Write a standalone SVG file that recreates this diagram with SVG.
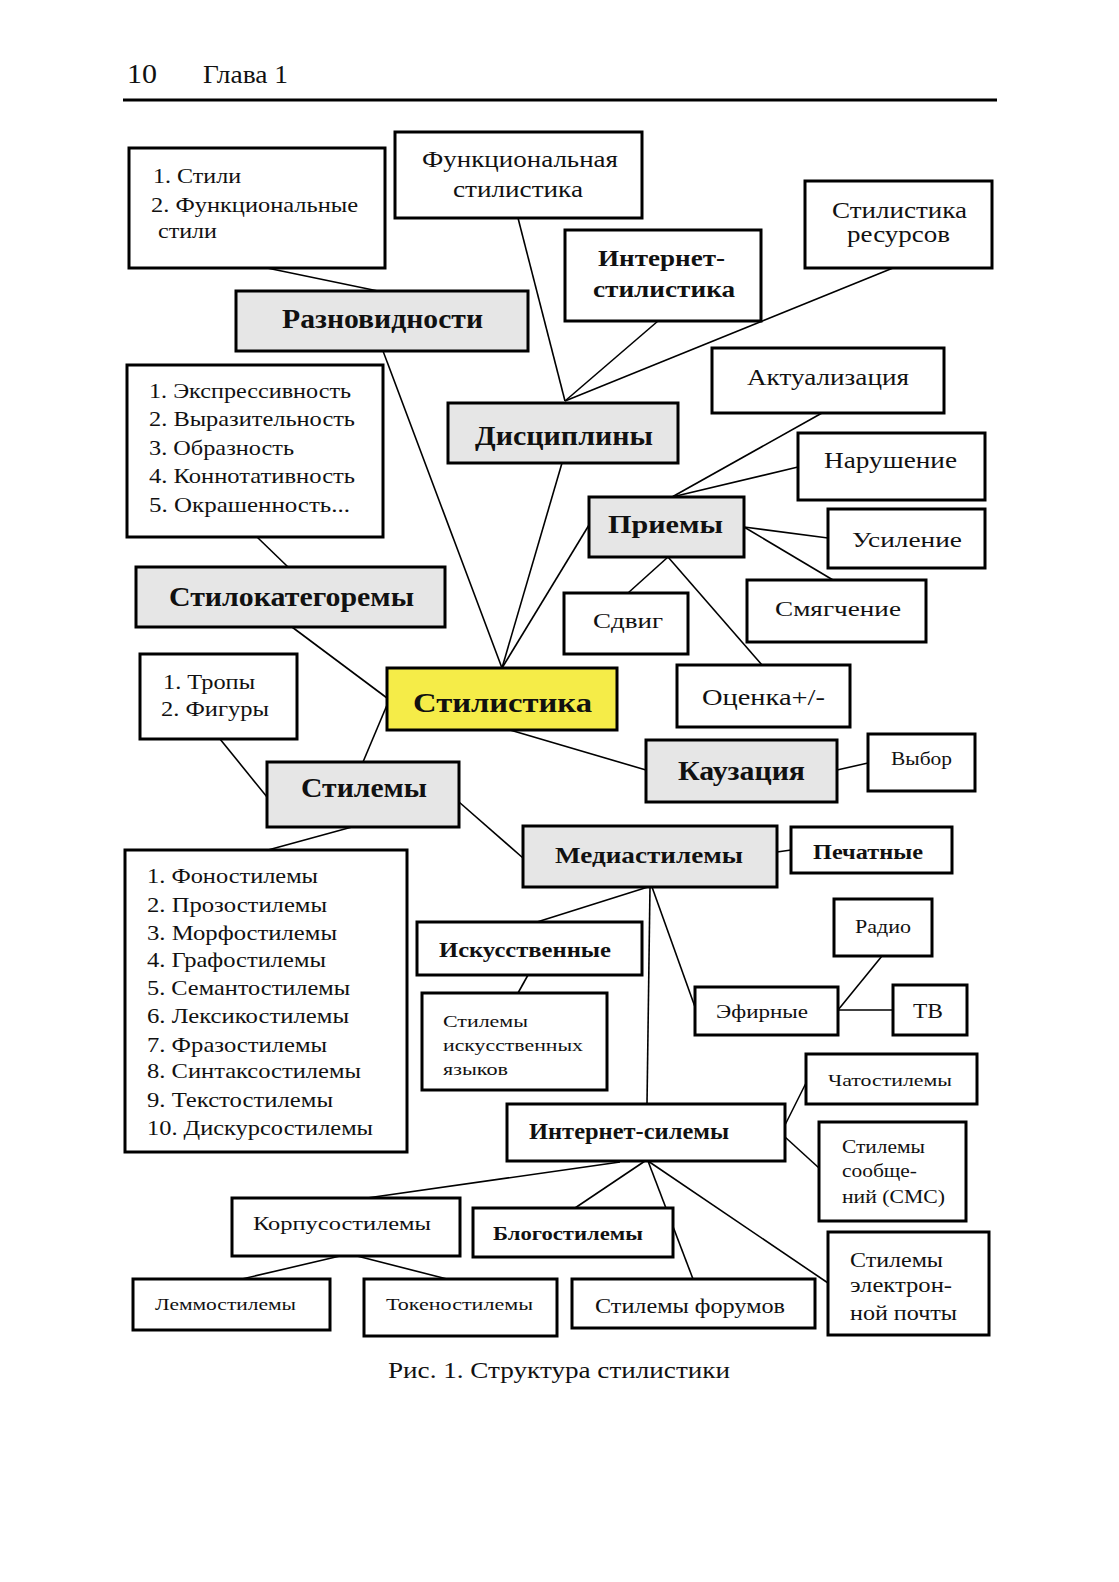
<svg xmlns="http://www.w3.org/2000/svg" width="1119" height="1582" viewBox="0 0 1119 1582">
<style>
.bx{fill:#fff;stroke:#000;stroke-width:3}
.g{fill:#e6e6e6}
.y{fill:#f5ec48}
.t{font-family:"Liberation Serif","Times New Roman",serif;fill:#111}
.b{font-weight:bold}
.ln{stroke:#000;stroke-width:1.6;fill:none}
</style>
<rect width="1119" height="1582" fill="#fff"/>
<g id="header">
<text class="t" x="127" y="83" font-size="27" textLength="30" lengthAdjust="spacingAndGlyphs">10</text>
<text class="t" x="203" y="83" font-size="25" textLength="85" lengthAdjust="spacingAndGlyphs">Глава 1</text>
<line x1="123" y1="100" x2="997" y2="100" stroke="#000" stroke-width="3"/>
</g>
<g id="connectors">
<line class="ln" x1="267" y1="268" x2="378" y2="291"/>
<line class="ln" x1="518" y1="218" x2="565" y2="401"/>
<line class="ln" x1="658" y1="321" x2="565" y2="401"/>
<line class="ln" x1="893" y1="268" x2="565" y2="401"/>
<line class="ln" x1="383" y1="351" x2="502" y2="668"/>
<line class="ln" x1="562" y1="463" x2="502" y2="668"/>
<line class="ln" x1="589" y1="525" x2="502" y2="668"/>
<line class="ln" x1="822" y1="413" x2="672" y2="497"/>
<line class="ln" x1="798" y1="467" x2="672" y2="497"/>
<line class="ln" x1="744" y1="527" x2="828" y2="538"/>
<line class="ln" x1="744" y1="527" x2="833" y2="580"/>
<line class="ln" x1="668" y1="557" x2="628" y2="593"/>
<line class="ln" x1="668" y1="557" x2="762" y2="665"/>
<line class="ln" x1="257" y1="537" x2="288" y2="567"/>
<line class="ln" x1="292" y1="627" x2="387" y2="698"/>
<line class="ln" x1="387" y1="705" x2="363" y2="762"/>
<line class="ln" x1="220" y1="739" x2="267" y2="797"/>
<line class="ln" x1="510" y1="730" x2="646" y2="770"/>
<line class="ln" x1="837" y1="770" x2="868" y2="763"/>
<line class="ln" x1="459" y1="802" x2="523" y2="858"/>
<line class="ln" x1="352" y1="827" x2="268" y2="850"/>
<line class="ln" x1="777" y1="852" x2="791" y2="850"/>
<line class="ln" x1="648" y1="887" x2="537" y2="922"/>
<line class="ln" x1="650" y1="887" x2="647" y2="1104"/>
<line class="ln" x1="652" y1="887" x2="695" y2="1007"/>
<line class="ln" x1="882" y1="956" x2="838" y2="1010"/>
<line class="ln" x1="838" y1="1010" x2="893" y2="1010"/>
<line class="ln" x1="528" y1="975" x2="518" y2="993"/>
<line class="ln" x1="785" y1="1125" x2="806" y2="1083"/>
<line class="ln" x1="785" y1="1137" x2="819" y2="1168"/>
<line class="ln" x1="620" y1="1162" x2="367" y2="1198"/>
<line class="ln" x1="645" y1="1161" x2="575" y2="1208"/>
<line class="ln" x1="648" y1="1161" x2="693" y2="1279" stroke-width="2.6"/>
<line class="ln" x1="648" y1="1161" x2="828" y2="1283"/>
<line class="ln" x1="340" y1="1256" x2="242" y2="1279"/>
<line class="ln" x1="357" y1="1256" x2="447" y2="1279"/>
</g>
<g id="n-stili">
<rect class="bx" x="129" y="148" width="256" height="120"/>
<text class="t" x="153" y="183" font-size="22" textLength="88" lengthAdjust="spacingAndGlyphs">1. Стили</text>
<text class="t" x="151" y="212" font-size="22" textLength="207" lengthAdjust="spacingAndGlyphs">2. Функциональные</text>
<text class="t" x="158" y="238" font-size="22" textLength="59" lengthAdjust="spacingAndGlyphs">стили</text>
</g>
<g id="n-funk">
<rect class="bx" x="395" y="132" width="247" height="86"/>
<text class="t" x="422" y="167" font-size="23" textLength="196" lengthAdjust="spacingAndGlyphs">Функциональная</text>
<text class="t" x="453" y="197" font-size="23" textLength="130" lengthAdjust="spacingAndGlyphs">стилистика</text>
</g>
<g id="n-internet-stil">
<rect class="bx" x="565" y="230" width="196" height="91"/>
<text class="t b" x="598" y="266" font-size="24" textLength="127" lengthAdjust="spacingAndGlyphs">Интернет-</text>
<text class="t b" x="593" y="297" font-size="24" textLength="142" lengthAdjust="spacingAndGlyphs">стилистика</text>
</g>
<g id="n-resursy">
<rect class="bx" x="805" y="181" width="187" height="87"/>
<text class="t" x="832" y="218" font-size="23" textLength="135" lengthAdjust="spacingAndGlyphs">Стилистика</text>
<text class="t" x="847" y="242" font-size="23" textLength="103" lengthAdjust="spacingAndGlyphs">ресурсов</text>
</g>
<g id="n-raznovidnosti">
<rect class="bx g" x="236" y="291" width="292" height="60"/>
<text class="t b" x="282" y="328" font-size="27" textLength="201" lengthAdjust="spacingAndGlyphs">Разновидности</text>
</g>
<g id="n-aktual">
<rect class="bx" x="712" y="348" width="232" height="65"/>
<text class="t" x="747" y="385" font-size="23" textLength="162" lengthAdjust="spacingAndGlyphs">Актуализация</text>
</g>
<g id="n-discipliny">
<rect class="bx g" x="448" y="403" width="230" height="60"/>
<text class="t b" x="475" y="445" font-size="27" textLength="178" lengthAdjust="spacingAndGlyphs">Дисциплины</text>
</g>
<g id="n-narushenie">
<rect class="bx" x="798" y="433" width="187" height="67"/>
<text class="t" x="824" y="468" font-size="23" textLength="133" lengthAdjust="spacingAndGlyphs">Нарушение</text>
</g>
<g id="n-ekspr">
<rect class="bx" x="127" y="365" width="256" height="172"/>
<text class="t" x="149" y="398" font-size="22" textLength="202" lengthAdjust="spacingAndGlyphs">1. Экспрессивность</text>
<text class="t" x="149" y="426" font-size="22" textLength="206" lengthAdjust="spacingAndGlyphs">2. Выразительность</text>
<text class="t" x="149" y="455" font-size="22" textLength="145" lengthAdjust="spacingAndGlyphs">3. Образность</text>
<text class="t" x="149" y="483" font-size="22" textLength="206" lengthAdjust="spacingAndGlyphs">4. Коннотативность</text>
<text class="t" x="149" y="512" font-size="22" textLength="201" lengthAdjust="spacingAndGlyphs">5. Окрашенность...</text>
</g>
<g id="n-priemy">
<rect class="bx g" x="589" y="497" width="155" height="60"/>
<text class="t b" x="608" y="533" font-size="26" textLength="115" lengthAdjust="spacingAndGlyphs">Приемы</text>
</g>
<g id="n-usilenie">
<rect class="bx" x="828" y="509" width="157" height="59"/>
<text class="t" x="852" y="547" font-size="22" textLength="110" lengthAdjust="spacingAndGlyphs">Усиление</text>
</g>
<g id="n-stilokat">
<rect class="bx g" x="136" y="567" width="309" height="60"/>
<text class="t b" x="169" y="606" font-size="27" textLength="245" lengthAdjust="spacingAndGlyphs">Стилокатегоремы</text>
</g>
<g id="n-smyagchenie">
<rect class="bx" x="747" y="580" width="179" height="62"/>
<text class="t" x="775" y="616" font-size="22" textLength="126" lengthAdjust="spacingAndGlyphs">Смягчение</text>
</g>
<g id="n-sdvig">
<rect class="bx" x="564" y="593" width="124" height="61"/>
<text class="t" x="593" y="628" font-size="21" textLength="70" lengthAdjust="spacingAndGlyphs">Сдвиг</text>
</g>
<g id="n-tropy">
<rect class="bx" x="140" y="654" width="157" height="85"/>
<text class="t" x="163" y="689" font-size="22" textLength="92" lengthAdjust="spacingAndGlyphs">1. Тропы</text>
<text class="t" x="161" y="716" font-size="22" textLength="108" lengthAdjust="spacingAndGlyphs">2. Фигуры</text>
</g>
<g id="n-ocenka">
<rect class="bx" x="677" y="665" width="173" height="62"/>
<text class="t" x="702" y="705" font-size="23" textLength="123" lengthAdjust="spacingAndGlyphs">Оценка+/-</text>
</g>
<g id="n-stilistika">
<rect class="bx y" x="387" y="668" width="230" height="62"/>
<text class="t b" x="413" y="712" font-size="27" textLength="179" lengthAdjust="spacingAndGlyphs">Стилистика</text>
</g>
<g id="n-vybor">
<rect class="bx" x="868" y="734" width="107" height="57"/>
<text class="t" x="891" y="765" font-size="18" textLength="61" lengthAdjust="spacingAndGlyphs">Выбор</text>
</g>
<g id="n-kauzaciya">
<rect class="bx g" x="646" y="740" width="191" height="62"/>
<text class="t b" x="678" y="780" font-size="27" textLength="127" lengthAdjust="spacingAndGlyphs">Каузация</text>
</g>
<g id="n-stilemy">
<rect class="bx g" x="267" y="762" width="192" height="65"/>
<text class="t b" x="301" y="797" font-size="27" textLength="126" lengthAdjust="spacingAndGlyphs">Стилемы</text>
</g>
<g id="n-media">
<rect class="bx g" x="523" y="826" width="254" height="61"/>
<text class="t b" x="555" y="863" font-size="24" textLength="188" lengthAdjust="spacingAndGlyphs">Медиастилемы</text>
</g>
<g id="n-pechatnye">
<rect class="bx" x="791" y="827" width="161" height="46"/>
<text class="t b" x="813" y="859" font-size="22" textLength="110" lengthAdjust="spacingAndGlyphs">Печатные</text>
</g>
<g id="n-fono">
<rect class="bx" x="125" y="850" width="282" height="302"/>
<text class="t" x="147" y="883" font-size="21" textLength="171" lengthAdjust="spacingAndGlyphs">1. Фоностилемы</text>
<text class="t" x="147" y="912" font-size="21" textLength="180" lengthAdjust="spacingAndGlyphs">2. Прозостилемы</text>
<text class="t" x="147" y="940" font-size="21" textLength="190" lengthAdjust="spacingAndGlyphs">3. Морфостилемы</text>
<text class="t" x="147" y="967" font-size="21" textLength="179" lengthAdjust="spacingAndGlyphs">4. Графостилемы</text>
<text class="t" x="147" y="995" font-size="21" textLength="203" lengthAdjust="spacingAndGlyphs">5. Семантостилемы</text>
<text class="t" x="147" y="1023" font-size="21" textLength="202" lengthAdjust="spacingAndGlyphs">6. Лексикостилемы</text>
<text class="t" x="147" y="1052" font-size="21" textLength="180" lengthAdjust="spacingAndGlyphs">7. Фразостилемы</text>
<text class="t" x="147" y="1078" font-size="21" textLength="214" lengthAdjust="spacingAndGlyphs">8. Синтаксостилемы</text>
<text class="t" x="147" y="1107" font-size="21" textLength="186" lengthAdjust="spacingAndGlyphs">9. Текстостилемы</text>
<text class="t" x="147" y="1135" font-size="21" textLength="226" lengthAdjust="spacingAndGlyphs">10. Дискурсостилемы</text>
</g>
<g id="n-radio">
<rect class="bx" x="834" y="899" width="98" height="57"/>
<text class="t" x="855" y="933" font-size="18" textLength="56" lengthAdjust="spacingAndGlyphs">Радио</text>
</g>
<g id="n-iskusstv">
<rect class="bx" x="417" y="922" width="225" height="53"/>
<text class="t b" x="439" y="957" font-size="22" textLength="172" lengthAdjust="spacingAndGlyphs">Искусственные</text>
</g>
<g id="n-efirnye">
<rect class="bx" x="695" y="987" width="143" height="48"/>
<text class="t" x="716" y="1018" font-size="18" textLength="92" lengthAdjust="spacingAndGlyphs">Эфирные</text>
</g>
<g id="n-tv">
<rect class="bx" x="893" y="985" width="74" height="50"/>
<text class="t" x="913" y="1018" font-size="21" textLength="30" lengthAdjust="spacingAndGlyphs">ТВ</text>
</g>
<g id="n-iskyaz">
<rect class="bx" x="422" y="993" width="185" height="97"/>
<text class="t" x="443" y="1027" font-size="17" textLength="85" lengthAdjust="spacingAndGlyphs">Стилемы</text>
<text class="t" x="443" y="1051" font-size="17" textLength="140" lengthAdjust="spacingAndGlyphs">искусственных</text>
<text class="t" x="443" y="1075" font-size="17" textLength="65" lengthAdjust="spacingAndGlyphs">языков</text>
</g>
<g id="n-chato">
<rect class="bx" x="806" y="1054" width="171" height="50"/>
<text class="t" x="828" y="1086" font-size="17" textLength="124" lengthAdjust="spacingAndGlyphs">Чатостилемы</text>
</g>
<g id="n-internet-sil">
<rect class="bx" x="507" y="1104" width="278" height="57"/>
<text class="t b" x="529" y="1139" font-size="23" textLength="200" lengthAdjust="spacingAndGlyphs">Интернет-силемы</text>
</g>
<g id="n-sms">
<rect class="bx" x="819" y="1122" width="147" height="99"/>
<text class="t" x="842" y="1153" font-size="18" textLength="83" lengthAdjust="spacingAndGlyphs">Стилемы</text>
<text class="t" x="842" y="1177" font-size="18" textLength="75" lengthAdjust="spacingAndGlyphs">сообще-</text>
<text class="t" x="842" y="1203" font-size="18" textLength="103" lengthAdjust="spacingAndGlyphs">ний (СМС)</text>
</g>
<g id="n-korpus">
<rect class="bx" x="232" y="1198" width="228" height="58"/>
<text class="t" x="253" y="1230" font-size="19" textLength="178" lengthAdjust="spacingAndGlyphs">Корпусостилемы</text>
</g>
<g id="n-blogo">
<rect class="bx" x="473" y="1208" width="200" height="49"/>
<text class="t b" x="493" y="1240" font-size="19" textLength="150" lengthAdjust="spacingAndGlyphs">Блогостилемы</text>
</g>
<g id="n-pochta">
<rect class="bx" x="828" y="1232" width="161" height="103"/>
<text class="t" x="850" y="1267" font-size="21" textLength="93" lengthAdjust="spacingAndGlyphs">Стилемы</text>
<text class="t" x="850" y="1292" font-size="21" textLength="102" lengthAdjust="spacingAndGlyphs">электрон-</text>
<text class="t" x="850" y="1320" font-size="21" textLength="107" lengthAdjust="spacingAndGlyphs">ной почты</text>
</g>
<g id="n-lemmo">
<rect class="bx" x="133" y="1279" width="197" height="51"/>
<text class="t" x="155" y="1310" font-size="16" textLength="141" lengthAdjust="spacingAndGlyphs">Леммостилемы</text>
</g>
<g id="n-tokeno">
<rect class="bx" x="364" y="1279" width="193" height="57"/>
<text class="t" x="386" y="1310" font-size="16" textLength="147" lengthAdjust="spacingAndGlyphs">Токеностилемы</text>
</g>
<g id="n-forumy">
<rect class="bx" x="572" y="1279" width="243" height="49"/>
<text class="t" x="595" y="1313" font-size="21" textLength="190" lengthAdjust="spacingAndGlyphs">Стилемы форумов</text>
</g>
<g id="caption">
<text class="t" x="388" y="1378" font-size="23" textLength="342" lengthAdjust="spacingAndGlyphs">Рис. 1. Структура стилистики</text>
</g>
</svg>
